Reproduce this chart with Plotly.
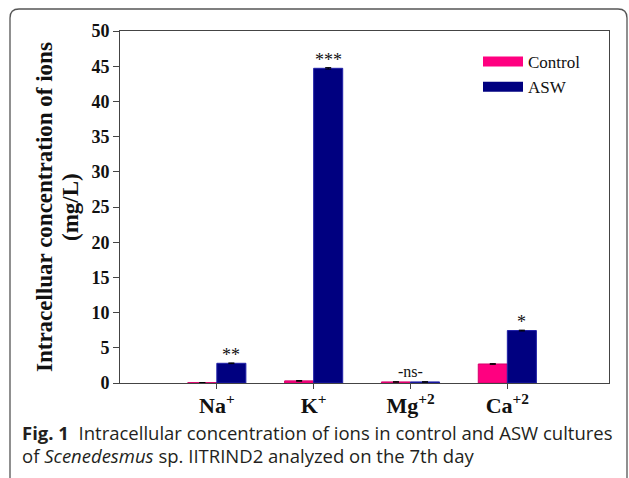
import plotly.graph_objects as go

categories = ["Na<sup>+</sup>", "K<sup>+</sup>", "Mg<sup>+2</sup>", "Ca<sup>+2</sup>"]
control = [0.05, 0.3, 0.15, 2.7]
asw = [2.8, 44.7, 0.15, 7.45]
control_err = [0.02, 0.05, 0.03, 0.05]
asw_err = [0.05, 0.1, 0.03, 0.06]
signif = ["**", "***", "-ns-", "*"]
y_ticks = [0, 5, 10, 15, 20, 25, 30, 35, 40, 45, 50]

PINK = "#ff0080"
NAVY = "#000080"
SERIF = "Liberation Serif, Times New Roman, serif"

W, H = 629, 478
L, R, T, B = 120, 20, 31, 95
pw, ph = W - L - R, H - T - B

def px(x):
    return (x - L) / pw

def py(y):
    return (H - B - y) / ph

xs = list(range(len(categories)))

fig = go.Figure()
fig.add_trace(go.Bar(
    x=xs, y=control, name="Control", offsetgroup="c", showlegend=False,
    marker=dict(color=PINK, line=dict(color="#d6006b", width=1)),
    error_y=dict(type="data", array=control_err, color="#000", thickness=1, width=3),
))
fig.add_trace(go.Bar(
    x=xs, y=asw, name="ASW", offsetgroup="a", showlegend=False,
    marker=dict(color=NAVY, line=dict(color="#2020a8", width=1)),
    error_y=dict(type="data", array=asw_err, color="#000", thickness=1, width=3),
))
# legend entries (wide rectangles)
for name, col in [("Control", PINK), ("ASW", NAVY)]:
    fig.add_trace(go.Scatter(x=[None], y=[None], mode="lines", name=name,
                             line=dict(color=col, width=10)))

# significance labels
for i, s in enumerate(signif):
    if s == "-ns-":
        xpos = xs[i]
        ypos = max(control[i] + control_err[i], asw[i] + asw_err[i])
        ysh = 0
        size = 16
    else:
        xpos = xs[i] + 0.15
        ypos = asw[i] + asw_err[i]
        ysh = -4
        size = 18
    fig.add_annotation(x=xpos, y=ypos, text=s, showarrow=False, yanchor="bottom",
                       yshift=ysh, font=dict(family=SERIF, size=size, color="#111"))

# y-axis title (two lines)
for xpos, txt in [(44, "Intracelluar concentration of ions"), (70, "(mg/L)")]:
    fig.add_annotation(xref="paper", yref="paper", x=px(xpos), y=py(207),
                       xanchor="center", yanchor="middle", textangle=-90, showarrow=False,
                       text=f"<b>{txt}</b>", font=dict(family=SERIF, size=23, color="#111"))

# caption
fig.add_annotation(xref="paper", yref="paper", x=px(20), y=py(432), xanchor="left",
                   yanchor="middle", showarrow=False,
                   text="<b>Fig. 1</b>  Intracellular concentration of ions in control and ASW cultures",
                   font=dict(family="Open Sans, sans-serif", size=18.5, color="#231f20"))
fig.add_annotation(xref="paper", yref="paper", x=px(20), y=py(455), xanchor="left",
                   yanchor="middle", showarrow=False,
                   text="of <i>Scenedesmus</i> sp. IITRIND2 analyzed on the 7th day",
                   font=dict(family="Open Sans, sans-serif", size=18.5, color="#231f20"))

# outer rounded frame
x0, x1, y0, y1, r = 10, 627, 9, 500, 9
path = (f"M {px(x0)},{py(y1)} L {px(x0)},{py(y0 + r)} Q {px(x0)},{py(y0)} {px(x0 + r)},{py(y0)} "
        f"L {px(x1 - r)},{py(y0)} Q {px(x1)},{py(y0)} {px(x1)},{py(y0 + r)} L {px(x1)},{py(y1)}")
fig.add_shape(type="path", path=path, xref="paper", yref="paper",
              line=dict(color="#555", width=1.3), layer="below")

fig.update_layout(
    width=W, height=H, margin=dict(l=L, r=R, t=T, b=B),
    paper_bgcolor="white", plot_bgcolor="white",
    barmode="group", bargap=0.4, bargroupgap=0,
    font=dict(family=SERIF, color="#111"),
    legend=dict(x=px(478), y=py(44), xanchor="left", yanchor="top",
                bgcolor="rgba(0,0,0,0)", font=dict(family=SERIF, size=17, color="#111"),
                itemwidth=40, tracegroupgap=0),
    xaxis=dict(range=[-1, 4.05], tickvals=xs, ticktext=[f"<b>{c}</b>" for c in categories],
               showline=True, linecolor="#444", linewidth=1, mirror=True,
               ticks="outside", ticklen=5, tickcolor="#444", showgrid=False, zeroline=False,
               ticklabelstandoff=-2,
               tickfont=dict(family=SERIF, size=22, color="#111")),
    yaxis=dict(range=[0, 50], tickvals=y_ticks, ticktext=[f"<b>{v}</b>" for v in y_ticks],
               showline=True, linecolor="#444", linewidth=1, mirror=True,
               ticks="outside", ticklen=6, tickcolor="#444", showgrid=False, zeroline=False,
               tickfont=dict(family=SERIF, size=18, color="#111")),
)

fig.write_html("out.html")
